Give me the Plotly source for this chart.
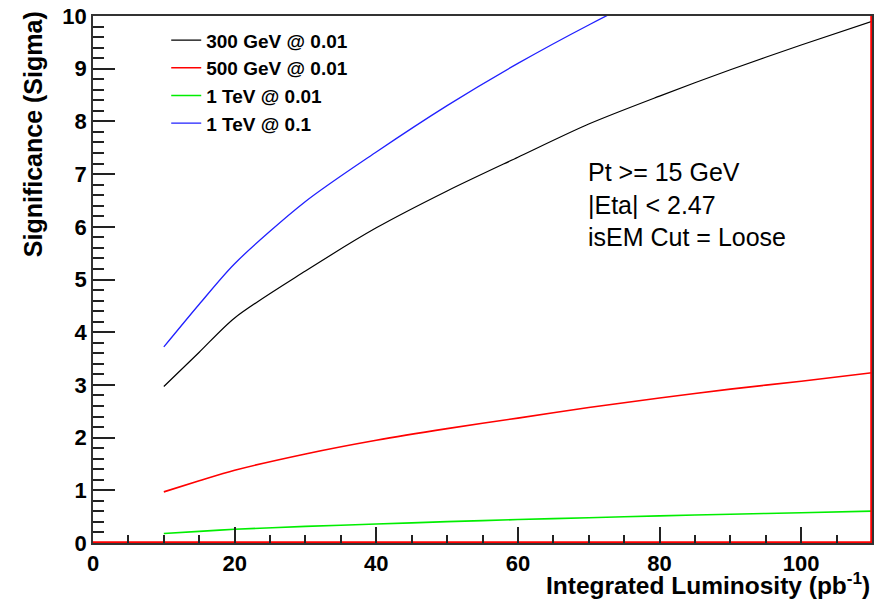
import plotly.graph_objects as go

# Integrated luminosity (pb^-1)
lumi = [10, 15, 20, 30, 40, 50, 60, 70, 80, 90, 100, 110]

sig_300gev_001 = [2.97, 3.62, 4.27, 5.16, 5.98, 6.68, 7.32, 7.95, 8.48, 8.98, 9.45, 9.90]
sig_500gev_001 = [0.97, 1.18, 1.38, 1.69, 1.95, 2.17, 2.37, 2.57, 2.75, 2.92, 3.07, 3.23]
sig_1tev_001 = [0.18, 0.22, 0.26, 0.315, 0.36, 0.405, 0.445, 0.48, 0.515, 0.545, 0.575, 0.605]
sig_1tev_01 = [3.72, 4.53, 5.30, 6.48, 7.42, 8.30, 9.10, 9.83, 10.5, 11.1, 11.7, 12.3]

series_names = ["300 GeV @ 0.01", "500 GeV @ 0.01", "1 TeV @ 0.01", "1 TeV @ 0.1"]
series_colors = ["#000000", "#ff0000", "#00ee00", "#2020ff"]
series_widths = [1.2, 1.6, 1.6, 1.3]

X_MIN, X_MAX = 0, 110
Y_MIN, Y_MAX = 0, 10

cut_text = ["Pt &gt;= 15 GeV", "|Eta| &lt; 2.47", "isEM Cut = Loose"]

FONT = "Arial, Liberation Sans, Helvetica, sans-serif"

fig = go.Figure()
for name, ys, col, w in zip(series_names,
                            [sig_300gev_001, sig_500gev_001, sig_1tev_001, sig_1tev_01],
                            series_colors, series_widths):
    fig.add_trace(go.Scatter(x=lumi, y=ys, mode="lines", name=name,
                             line=dict(color=col, width=w, shape="spline", smoothing=0.8)))

# red frame drawn by the original along the bottom and right edge
fig.add_trace(go.Scatter(x=[X_MIN, X_MAX, X_MAX], y=[Y_MIN, Y_MIN, Y_MAX], mode="lines",
                         line=dict(color="#ff0000", width=3.5), showlegend=False,
                         hoverinfo="skip"))

# the page body has an 8px margin, so the figure is sized to fill the rest of the window
fig.update_layout(
    width=874, height=593, autosize=False,
    margin=dict(l=85, r=10, t=8, b=58, autoexpand=False),
    paper_bgcolor="white", plot_bgcolor="white",
    font=dict(family=FONT, color="black"),
    showlegend=True,
    legend=dict(x=0.094, y=0.99, xanchor="left", yanchor="top",
                bgcolor="rgba(0,0,0,0)", borderwidth=0,
                font=dict(family=FONT, size=19, color="black", weight="bold"),
                tracegroupgap=0, itemwidth=30),
    xaxis=dict(range=[X_MIN, X_MAX], dtick=20, tick0=0, automargin=False,
               ticklabeloverflow="allow",
               ticks="inside", ticklen=16, tickwidth=2, tickcolor="#222",
               minor=dict(dtick=5, ticks="inside", ticklen=8, tickwidth=2, tickcolor="#222"),
               showline=True, linecolor="#333", linewidth=1.5, mirror=True,
               showgrid=False, zeroline=False,
               tickfont=dict(family=FONT, size=22, weight="bold")),
    yaxis=dict(range=[Y_MIN, Y_MAX], dtick=1, tick0=0, automargin=False,
               ticklabeloverflow="allow",
               ticks="inside", ticklen=22, tickwidth=2, tickcolor="#222",
               minor=dict(dtick=0.2, ticks="inside", ticklen=11, tickwidth=2, tickcolor="#222"),
               showline=True, linecolor="#333", linewidth=1.5, mirror=True,
               showgrid=False, zeroline=False,
               tickfont=dict(family=FONT, size=22, weight="bold")),
    annotations=[
        dict(text="Integrated Luminosity (pb<sup>-1</sup>)", xref="paper", yref="paper",
             x=1.0, y=-0.076, xanchor="right", yanchor="middle", showarrow=False,
             font=dict(family=FONT, size=24.5, weight="bold")),
        dict(text="Significance (Sigma)", xref="paper", yref="paper",
             x=-0.077, y=1.013, xanchor="center", yanchor="top", textangle=-90,
             showarrow=False, font=dict(family=FONT, size=25, weight="bold")),
        dict(text="<br>".join(cut_text), xref="paper", yref="paper",
             x=0.633, y=0.734, xanchor="left", yanchor="top", align="left",
             showarrow=False, font=dict(family=FONT, size=25, color="black")),
    ],
)

fig.write_html("out.html")
